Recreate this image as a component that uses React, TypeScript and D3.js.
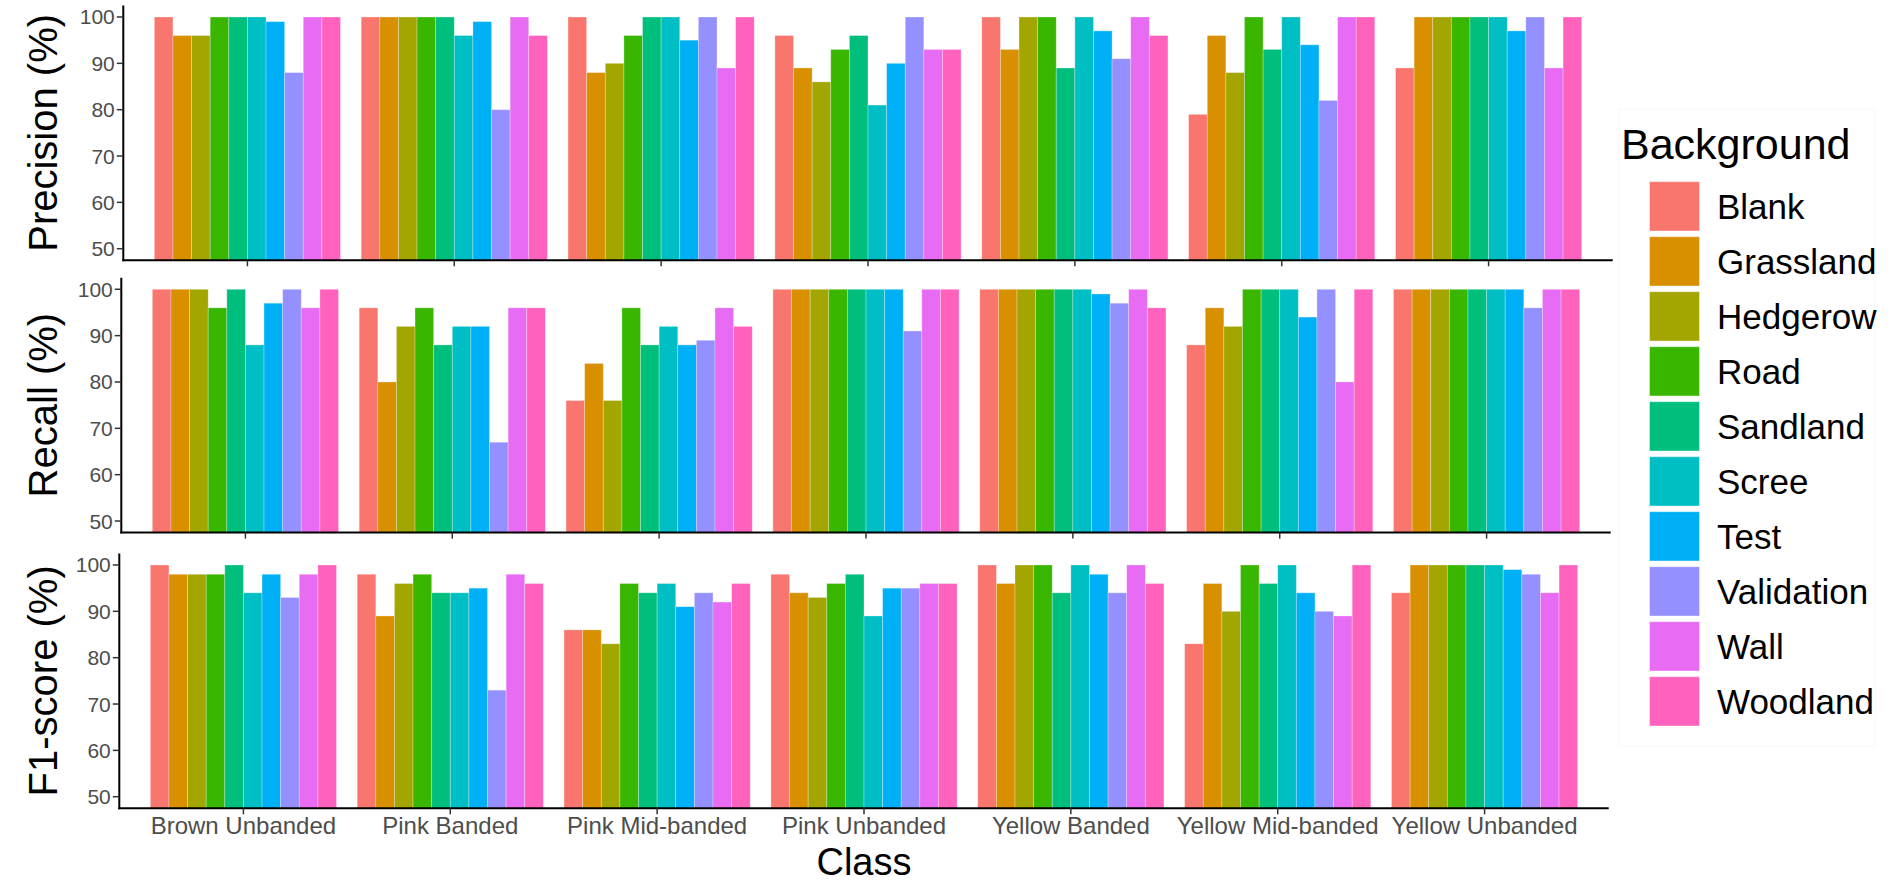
import React from "react";
import * as d3 from "d3";

const classes = [
  "Brown Unbanded",
  "Pink Banded",
  "Pink Mid-banded",
  "Pink Unbanded",
  "Yellow Banded",
  "Yellow Mid-banded",
  "Yellow Unbanded",
];

const backgrounds = [
  "Blank",
  "Grassland",
  "Hedgerow",
  "Road",
  "Sandland",
  "Scree",
  "Test",
  "Validation",
  "Wall",
  "Woodland",
];

const colors = [
  "#F8766D",
  "#D89000",
  "#A3A500",
  "#39B600",
  "#00BF7D",
  "#00BFC4",
  "#00B0F6",
  "#9590FF",
  "#E76BF3",
  "#FF62BC",
];

// values per class, in background order
const precision = [
  [100, 96, 96, 100, 100, 100, 99, 88, 100, 100],
  [100, 100, 100, 100, 100, 96, 99, 80, 100, 96],
  [100, 88, 90, 96, 100, 100, 95, 100, 89, 100],
  [96, 89, 86, 93, 96, 81, 90, 100, 93, 93],
  [100, 93, 100, 100, 89, 100, 97, 91, 100, 96],
  [79, 96, 88, 100, 93, 100, 94, 82, 100, 100],
  [89, 100, 100, 100, 100, 100, 97, 100, 89, 100],
];

const recall = [
  [100, 100, 100, 96, 100, 88, 97, 100, 96, 100],
  [96, 80, 92, 96, 88, 92, 92, 67, 96, 96],
  [76, 84, 76, 96, 88, 92, 88, 89, 96, 92],
  [100, 100, 100, 100, 100, 100, 100, 91, 100, 100],
  [100, 100, 100, 100, 100, 100, 99, 97, 100, 96],
  [88, 96, 92, 100, 100, 100, 94, 100, 80, 100],
  [100, 100, 100, 100, 100, 100, 100, 96, 100, 100],
];

const f1score = [
  [100, 98, 98, 98, 100, 94, 98, 93, 98, 100],
  [98, 89, 96, 98, 94, 94, 95, 73, 98, 96],
  [86, 86, 83, 96, 94, 96, 91, 94, 92, 96],
  [98, 94, 93, 96, 98, 89, 95, 95, 96, 96],
  [100, 96, 100, 100, 94, 100, 98, 94, 100, 96],
  [83, 96, 90, 100, 96, 100, 94, 90, 89, 100],
  [94, 100, 100, 100, 100, 100, 99, 98, 94, 100],
];

const yTicks = [50, 60, 70, 80, 90, 100];

const W = 1899;
const H = 882;
const PANEL_W = 1489.4;
const PANEL_H = 254.9;
const FONT = "'Liberation Sans', Arial, Helvetica, sans-serif";

const panels = [
  { title: "Precision (%)", values: precision, top: 5.4, left: 123.3, showLabels: false },
  { title: "Recall (%)", values: recall, top: 277.7, left: 121.3, showLabels: false },
  { title: "F1-score (%)", values: f1score, top: 553.4, left: 119.3, showLabels: true },
];

function Panel({ p }: { p: (typeof panels)[number] }) {
  const x = d3
    .scaleBand<string>()
    .domain(classes)
    .range([p.left, p.left + PANEL_W])
    .paddingInner(0.1)
    .paddingOuter(0.15);
  const xi = d3.scaleBand<string>().domain(backgrounds).range([0, x.bandwidth()]);
  const y = d3.scaleLinear().domain([47.5, 102.5]).range([p.top + PANEL_H, p.top]);
  const bottom = y(47.5);
  const cy = (y(47.5) + y(102.5)) / 2;

  return (
    <g>
      {classes.map((c, ci) => (
        <g key={c}>
          {backgrounds.map((b, bi) => {
            const v = p.values[ci][bi];
            const x0 = (x(c) as number) + (xi(b) as number);
            return (
              <rect
                key={b}
                x={x0}
                y={y(v)}
                width={xi.bandwidth()}
                height={bottom - y(v)}
                fill={colors[bi]}
                stroke="#ffffff"
                strokeOpacity={0.35}
                strokeWidth={0.8}
              />
            );
          })}
        </g>
      ))}
      {/* y axis */}
      <line x1={p.left} x2={p.left} y1={p.top} y2={bottom + 1} stroke="#000" strokeWidth={2} />
      {yTicks.map((t) => (
        <g key={t}>
          <line x1={p.left - 6.5} x2={p.left} y1={y(t)} y2={y(t)} stroke="#333" strokeWidth={1.5} />
          <text
            x={p.left - 8.5}
            y={y(t)}
            textAnchor="end"
            dominantBaseline="central"
            fontFamily={FONT}
            fontSize={21}
            fill="#4D4D4D"
          >
            {t}
          </text>
        </g>
      ))}
      {/* x axis */}
      <line x1={p.left - 1} x2={p.left + PANEL_W} y1={bottom} y2={bottom} stroke="#000" strokeWidth={2} />
      {classes.map((c) => {
        const cx = (x(c) as number) + x.bandwidth() / 2;
        return (
          <g key={c}>
            <line x1={cx} x2={cx} y1={bottom} y2={bottom + 6} stroke="#333" strokeWidth={1.5} />
            {p.showLabels && (
              <text x={cx} y={834} textAnchor="middle" fontFamily={FONT} fontSize={24} fill="#4D4D4D">
                {c}
              </text>
            )}
          </g>
        );
      })}
      <text
        transform={`translate(57,${cy}) rotate(-90)`}
        textAnchor="middle"
        fontFamily={FONT}
        fontSize={40}
        fill="#000"
      >
        {p.title}
      </text>
      {p.showLabels && (
        <text
          x={p.left + PANEL_W / 2}
          y={875}
          textAnchor="middle"
          fontFamily={FONT}
          fontSize={38}
          fill="#000"
        >
          Class
        </text>
      )}
    </g>
  );
}

function Legend() {
  const keyTop = 181.7;
  const pitch = 55;
  return (
    <g>
      <rect x={1619} y={109} width={256} height={637} fill="none" stroke="#f8f8f8" strokeWidth={1} />
      <text x={1621} y={159} fontFamily={FONT} fontSize={43} fill="#000">
        Background
      </text>
      {backgrounds.map((b, i) => (
        <g key={b}>
          <rect
            x={1649.5}
            y={keyTop + i * pitch}
            width={50}
            height={49.3}
            fill={colors[i]}
            stroke="#ffffff"
            strokeOpacity={0.4}
            strokeWidth={1}
          />
          <text
            x={1717}
            y={keyTop + i * pitch + 24.6}
            dominantBaseline="central"
            fontFamily={FONT}
            fontSize={35}
            fill="#000"
          >
            {b}
          </text>
        </g>
      ))}
    </g>
  );
}

export default function App() {
  return (
    <svg
      width={W}
      height={H}
      viewBox={`0 0 ${W} ${H}`}
      style={{ position: "absolute", left: 0, top: 0, background: "#fff" }}
    >
      <rect x={0} y={0} width={W} height={H} fill="#fff" />
      {panels.map((p) => (
        <Panel key={p.title} p={p} />
      ))}
      <Legend />
    </svg>
  );
}
